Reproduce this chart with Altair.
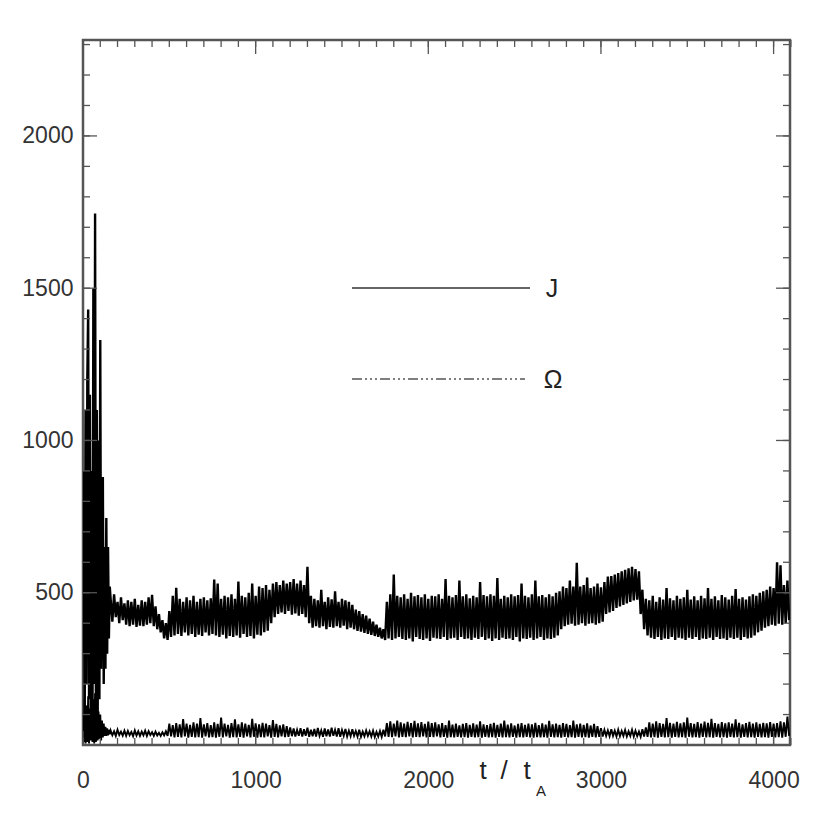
import altair as alt
import pandas as pd

# ---------------- data ----------------
# early phase: t = 0 .. 155, step 5
t_early = list(range(0, 160, 5))
J_early = [300, 900, 100, 1100, 200, 1200, 1430, 150, 1150, 100,
           900, 60, 1500, 200, 1745, 100, 1100, 80, 1000, 150,
           1330, 250, 600, 880, 200, 650, 250, 745, 300, 650,
           350, 520]
W_early = [100, 10, 150, 5, 130, 10, 160, 5, 120, 15,
           140, 10, 150, 5, 170, 10, 130, 15, 110, 20,
           100, 15, 80, 25, 70, 30, 60, 30, 55, 32,
           50, 35]

# main phase: t = 160 .. 4090, step 10
t_main = list(range(160, 4100, 10))
J_main = [
    480, 405, 495, 420, 470, 400, 485, 410, 465, 395,
    475, 390, 470, 395, 480, 388, 460, 392, 475, 390,
    470, 395, 485, 400, 493, 390, 455, 380, 430, 370,
    410, 350, 400, 345, 440, 355, 490, 360, 516, 365,
    480, 358, 470, 370, 485, 360, 475, 365, 490, 355,
    470, 362, 480, 358, 485, 370, 475, 360, 482, 365,
    543, 360, 530, 355, 480, 362, 490, 350, 485, 358,
    495, 355, 480, 360, 537, 352, 490, 365, 485, 355,
    500, 358, 530, 350, 490, 362, 520, 360, 515, 370,
    525, 375, 510, 400, 530, 420, 535, 430, 525, 435,
    540, 430, 530, 440, 535, 428, 545, 432, 530, 425,
    540, 430, 525, 420, 585, 400, 490, 385, 480, 390,
    475, 385, 510, 390, 470, 380, 485, 388, 478, 385,
    505, 390, 470, 385, 480, 392, 475, 380, 470, 385,
    460, 380, 445, 375, 440, 372, 430, 368, 425, 365,
    415, 362, 405, 358, 395, 355, 385, 350, 380, 345,
    470, 350, 495, 345, 560, 350, 490, 355, 485, 348,
    495, 345, 480, 350, 500, 340, 488, 355, 492, 348,
    485, 345, 495, 350, 480, 342, 490, 352, 488, 350,
    495, 348, 480, 355, 545, 345, 490, 350, 485, 352,
    492, 345, 540, 355, 488, 348, 495, 350, 482, 345,
    490, 352, 485, 348, 535, 355, 492, 345, 488, 350,
    495, 342, 490, 350, 548, 345, 480, 352, 490, 348,
    485, 350, 495, 345, 488, 355, 492, 340, 530, 350,
    490, 348, 485, 352, 495, 345, 540, 350, 488, 355,
    492, 345, 485, 350, 495, 348, 488, 352, 500, 360,
    505, 380, 520, 390, 515, 395, 540, 398, 520, 392,
    598, 395, 520, 400, 525, 392, 550, 398, 515, 400,
    520, 395, 530, 400, 518, 405, 535, 430, 553, 435,
    555, 440, 560, 450, 565, 455, 570, 460, 575, 465,
    580, 470, 585, 475, 578, 477, 570, 430, 510, 380,
    480, 360, 475, 352, 490, 348, 470, 355, 485, 345,
    478, 350, 515, 348, 482, 355, 475, 345, 490, 352,
    480, 350, 485, 345, 510, 352, 478, 348, 488, 355,
    475, 345, 490, 350, 482, 348, 515, 352, 480, 345,
    488, 355, 475, 348, 492, 350, 485, 345, 478, 352,
    490, 348, 512, 352, 480, 345, 485, 355, 478, 350,
    488, 352, 495, 360, 490, 370, 500, 375, 505, 385,
    510, 390, 520, 395, 515, 392, 600, 398, 590, 395,
    525, 400, 540, 410,
]
W_main = [
    48, 32, 45, 30, 50, 33, 44, 31, 47, 30,
    46, 32, 43, 29, 48, 31, 45, 30, 44, 32,
    47, 30, 45, 33, 42, 30, 44, 31, 40, 30,
    42, 32, 45, 30, 70, 28, 65, 25, 72, 27,
    68, 25, 85, 28, 70, 24, 66, 27, 74, 25,
    70, 26, 88, 24, 68, 28, 72, 25, 65, 26,
    74, 24, 69, 27, 90, 25, 70, 28, 66, 24,
    72, 26, 84, 25, 68, 27, 74, 24, 70, 28,
    66, 25, 86, 27, 71, 24, 68, 26, 73, 25,
    70, 28, 65, 24, 82, 27, 69, 25, 64, 28,
    68, 26, 62, 27, 58, 29, 54, 28, 50, 30,
    55, 28, 52, 30, 57, 27, 50, 29, 53, 28,
    56, 30, 48, 27, 54, 29, 51, 28, 57, 30,
    50, 28, 55, 27, 49, 30, 53, 28, 47, 29,
    52, 30, 46, 28, 50, 27, 44, 29, 48, 30,
    45, 28, 47, 26, 43, 28, 46, 27, 50, 28,
    72, 27, 78, 26, 70, 28, 80, 25, 74, 27,
    70, 26, 76, 28, 72, 25, 79, 27, 71, 26,
    75, 28, 69, 25, 77, 27, 72, 26, 74, 28,
    68, 25, 72, 27, 65, 24, 80, 26, 67, 25,
    70, 27, 64, 25, 69, 26, 72, 24, 66, 27,
    71, 25, 67, 26, 78, 24, 68, 27, 65, 25,
    69, 26, 73, 24, 66, 27, 70, 25, 80, 26,
    67, 25, 71, 27, 64, 24, 69, 26, 72, 25,
    66, 27, 70, 25, 68, 24, 73, 26, 65, 25,
    71, 26, 67, 24, 79, 27, 68, 25, 70, 26,
    66, 24, 72, 27, 69, 25, 65, 26, 80, 24,
    68, 27, 70, 25, 66, 26, 71, 24, 64, 27,
    69, 25, 62, 27, 55, 28, 50, 30, 48, 29,
    52, 30, 47, 28, 50, 29, 46, 30, 49, 28,
    45, 30, 50, 28, 47, 29, 44, 27, 52, 28,
    58, 27, 74, 25, 70, 26, 78, 24, 72, 27,
    69, 25, 88, 26, 73, 24, 70, 27, 76, 25,
    71, 26, 74, 24, 90, 27, 72, 25, 69, 26,
    75, 24, 70, 27, 77, 25, 73, 26, 86, 24,
    72, 27, 69, 25, 75, 26, 71, 24, 74, 27,
    70, 25, 84, 26, 73, 24, 68, 27, 72, 25,
    76, 26, 70, 24, 74, 27, 69, 25, 73, 26,
    71, 24, 75, 27, 70, 25, 72, 26, 78, 24,
    74, 27, 93, 30,
]

x_ticklabels = [0, 1000, 2000, 3000, 4000]
y_ticklabels = [500, 1000, 1500, 2000]
x_minor = list(range(0, 4101, 100))
y_minor = list(range(0, 2301, 100))

# ---------------- build ----------------
W, H = 707, 705
t_all = t_early + t_main
dfJ = pd.DataFrame({"t": t_all, "v": J_early + J_main})
dfW = pd.DataFrame({"t": t_all, "v": W_early + W_main})

xs = alt.Scale(domain=[0, 4095], nice=False, zero=False)
ys = alt.Scale(domain=[0, 2315], nice=False, zero=False)

FONT = "Liberation Sans"
LBL = "#333333"

xaxis = alt.Axis(values=x_ticklabels, ticks=False, domain=False, grid=False,
                 labelFontSize=23, labelPadding=24, labelColor=LBL, title=None,
                 labelFont=FONT, labelFlush=False, format="d")
yaxis = alt.Axis(values=y_ticklabels, ticks=False, domain=False, grid=False,
                 labelFontSize=23, labelPadding=10, labelColor=LBL, title=None,
                 labelFont=FONT, format="d")

lineJ = alt.Chart(dfJ).mark_line(color="black", strokeWidth=2.4, clip=True).encode(
    x=alt.X("t:Q", scale=xs, axis=xaxis),
    y=alt.Y("v:Q", scale=ys, axis=yaxis),
)
lineW = alt.Chart(dfW).mark_line(color="black", strokeWidth=1.9, clip=True).encode(
    x=alt.X("t:Q", scale=xs),
    y=alt.Y("v:Q", scale=ys),
)

TC = "#555555"
dfx = pd.DataFrame({"t": x_minor})
dfxM = pd.DataFrame({"t": x_ticklabels})
dfy = pd.DataFrame({"v": y_minor})
dfyM = pd.DataFrame({"v": y_ticklabels + [0]})

def xticks(df, ln):
    bot = alt.Chart(df).mark_rule(color=TC, strokeWidth=1.3).encode(
        x=alt.X("t:Q", scale=xs), y=alt.value(H), y2=alt.value(H - ln))
    top = alt.Chart(df).mark_rule(color=TC, strokeWidth=1.3).encode(
        x=alt.X("t:Q", scale=xs), y=alt.value(0), y2=alt.value(ln))
    return bot + top

def yticks(df, ln):
    left = alt.Chart(df).mark_rule(color=TC, strokeWidth=1.3).encode(
        y=alt.Y("v:Q", scale=ys), x=alt.value(0), x2=alt.value(ln))
    right = alt.Chart(df).mark_rule(color=TC, strokeWidth=1.3).encode(
        y=alt.Y("v:Q", scale=ys), x=alt.value(W), x2=alt.value(W - ln))
    return left + right

one = pd.DataFrame({"a": [0]})

def label(txt, x, y, size=25):
    return alt.Chart(one).mark_text(align="center", baseline="middle", fontSize=size,
                                    font=FONT, color="#222222").encode(
        x=alt.value(x), y=alt.value(y), text=alt.value(txt))

legJ = alt.Chart(one).mark_rule(color="#333333", strokeWidth=1.3).encode(
    x=alt.value(269), x2=alt.value(447), y=alt.value(248))
legW = alt.Chart(one).mark_rule(color="#555555", strokeWidth=1.3,
                                strokeDash=[10, 3, 2, 3, 2, 3, 2, 3]).encode(
    x=alt.value(269), x2=alt.value(442), y=alt.value(339))

chart = alt.layer(
    lineJ, lineW,
    xticks(dfx, 7), xticks(dfxM, 14), yticks(dfy, 7), yticks(dfyM, 14),
    legJ, legW,
    label("J", 469, 249), label("Ω", 470, 340),
    label("t", 400, 731, 26), label("/", 421, 731, 26), label("t", 444, 731, 26),
    label("A", 458, 751, 15),
).properties(
    width=W, height=H,
    autosize=alt.AutoSizeParams(type="none"),
    padding={"left": 75, "top": 32, "right": 30, "bottom": 75},
).configure_view(stroke="#555555", strokeWidth=2.5)

chart.save("out.html", embed_options={"renderer": "svg", "actions": False})
